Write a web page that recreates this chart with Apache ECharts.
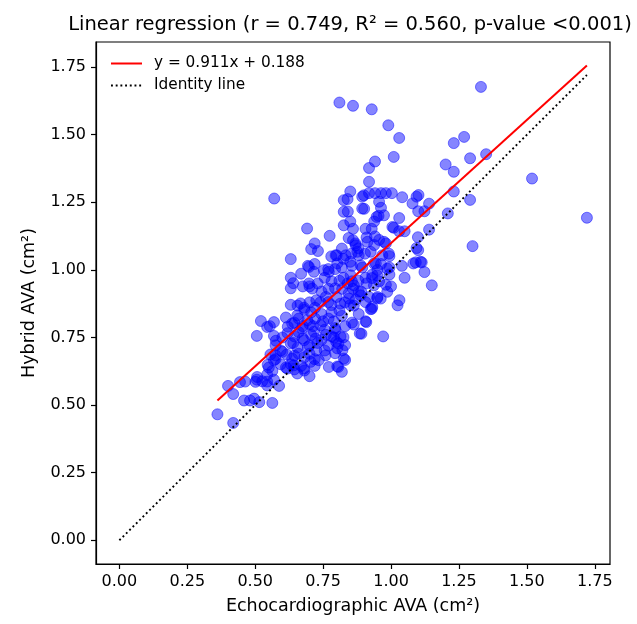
<!DOCTYPE html>
<html>
<head>
<meta charset="utf-8">
<script src="https://cdn.jsdelivr.net/npm/echarts@6/dist/echarts.min.js"></script>
<style>
html,body{margin:0;padding:0;background:#fff;}
#c{width:637px;height:624px;}
</style>
</head>
<body>
<div id="c"></div>
<script>
// Echocardiographic AVA (x) and Hybrid AVA (y)
const echoAVA = [
  1.331,0.810,0.860,0.929,0.990,1.030,1.231,1.269,1.350,1.291,
  1.010,0.941,0.919,1.201,1.231,1.519,0.919,0.850,0.570,1.721,
  1.300,1.231,1.291,1.209,1.140,1.094,1.101,1.041,1.079,1.100,
  1.123,1.030,1.140,1.099,1.100,1.113,1.091,1.123,1.150,1.031,
  0.971,1.050,1.040,0.994,0.691,0.774,0.631,0.506,0.521,0.361,
  0.419,0.400,0.419,0.444,0.463,0.459,0.481,0.496,0.515,0.563,
  0.506,0.544,0.588,0.550,0.563,
  0.840,0.894,0.919,0.941,0.963,0.981,1.003,0.956,0.963,0.901,
  0.841,0.850,0.954,0.938,0.860,0.906,0.929,1.010,1.030,1.050,
  0.941,0.844,0.869,0.938,0.956,0.981,0.719,0.706,0.731,0.800,
  0.825,0.854,0.881,0.904,0.819,0.694,0.719,0.769,0.794,0.819,
  0.856,0.894,0.944,0.963,0.994,0.669,0.631,0.640,0.631,0.675,
  0.700,0.756,0.781,0.825,0.856,0.906,0.931,0.994,1.000,0.956,
  0.981,0.744,0.794,0.844,0.881,0.919,0.950,0.725,0.769,0.813,
  0.863,0.906,0.631,0.656,0.681,0.706,0.744,0.781,0.819,0.856,
  0.881,0.909,0.929,0.613,0.644,0.675,0.713,0.756,0.794,0.831,
  0.863,0.891,0.569,0.554,0.569,0.576,0.619,0.644,0.675,0.706,
  0.744,0.781,0.825,0.806,0.831,0.794,0.631,0.656,0.694,0.725,
  0.756,0.594,0.616,0.644,0.681,0.719,0.556,0.575,0.594,0.631,
  0.669,0.700,0.806,0.819,0.831,0.546,0.544,0.569,0.613,0.644,
  0.681,0.719,
  0.698,0.716,0.753,0.771,0.796,0.802,0.698,0.710,0.667,0.826,
  0.826,0.826,0.900,1.094,1.082,1.109,0.894,0.947,0.974,1.005,
  0.870,0.913,0.974,0.833,0.876,0.925,0.968,0.992,0.888,0.937,
  0.986,0.851,0.949,0.863,0.937,0.845,0.888,0.931,0.962,0.986,
  0.544,0.575,0.636,0.655,0.673,0.692,0.716,0.722,0.741,0.575,
  0.569,0.600,0.618,0.642,0.636,0.679,0.655,0.704,0.734,0.759,
  0.771,0.821,0.798,0.796,0.501,0.526,0.544,0.507,0.925,0.906,
  0.885,1.024,0.826,0.814,0.802,0.802,0.949,
  0.66,0.68,0.70,0.72,0.74,0.76,0.78,0.80,0.82,0.84,
  0.86,0.88,0.70,0.72,0.75,0.77,0.79,0.81,0.83,0.85,
  0.87,0.89,0.91,0.93,0.95,0.66,0.68,0.70,0.73,0.76,
  0.79,0.62,0.60,0.64,0.66,0.70,0.77,0.73,0.77,0.81,
  0.85,0.88,0.91,0.86,0.78
];
const hybridAVA = [
  1.677,1.619,1.607,1.594,1.535,1.488,1.469,1.492,1.428,1.413,
  1.418,1.401,1.377,1.390,1.363,1.338,1.326,1.290,1.264,1.193,
  1.088,1.290,1.259,1.209,1.245,1.271,1.277,1.269,1.246,1.217,
  1.217,1.192,1.149,1.121,1.073,1.028,1.028,0.992,0.943,0.888,
  0.754,0.971,1.015,1.051,1.153,1.126,1.040,0.756,0.811,0.466,
  0.434,0.571,0.541,0.585,0.587,0.517,0.517,0.524,0.511,0.508,
  0.594,0.587,0.571,0.639,0.626,
  1.262,1.271,1.284,1.284,1.284,1.284,1.284,1.252,1.230,1.226,
  1.216,1.179,1.200,1.179,1.152,1.152,1.152,1.156,1.143,1.143,
  1.124,1.118,1.098,1.092,1.111,1.098,1.098,1.077,1.070,1.054,
  1.041,1.060,1.054,1.060,1.079,1.015,1.022,1.003,1.003,1.009,
  1.015,1.009,1.024,1.022,1.009,0.986,0.971,0.951,0.932,0.939,
  0.939,0.971,0.958,0.971,0.958,0.971,0.983,0.983,0.939,0.958,
  0.945,0.920,0.932,0.913,0.920,0.900,0.900,0.888,0.881,0.875,
  0.868,0.881,0.871,0.868,0.853,0.843,0.837,0.843,0.830,0.805,
  0.837,0.807,0.856,0.824,0.805,0.792,0.792,0.779,0.785,0.792,
  0.798,0.764,0.807,0.792,0.756,0.738,0.766,0.754,0.747,0.760,
  0.741,0.754,0.751,0.728,0.722,0.692,0.728,0.713,0.715,0.702,
  0.702,0.702,0.687,0.683,0.677,0.670,0.687,0.670,0.651,0.651,
  0.645,0.607,0.641,0.623,0.667,0.649,0.613,0.594,0.639,0.632,
  0.628,0.645,
  1.011,0.993,0.999,0.993,1.054,1.024,0.950,0.931,0.876,1.258,
  1.215,1.165,1.276,1.081,1.024,1.030,1.227,1.196,1.202,1.159,
  1.091,1.104,1.104,1.054,1.067,1.067,1.054,1.060,1.017,1.024,
  1.005,0.980,0.980,0.943,0.943,0.894,0.906,0.863,0.894,0.919,
  0.789,0.721,0.802,0.832,0.783,0.814,0.771,0.746,0.795,0.684,
  0.666,0.697,0.635,0.647,0.672,0.635,0.617,0.660,0.666,0.684,
  0.641,0.703,0.734,0.777,0.586,0.588,0.573,0.604,0.855,0.810,
  0.765,0.869,0.672,0.754,0.710,0.643,0.895,
  0.82,0.86,0.88,0.86,0.88,0.90,0.87,0.90,0.93,0.95,
  0.93,0.96,0.80,0.82,0.81,0.82,0.81,0.85,0.88,0.87,
  0.89,0.92,0.95,0.97,1.00,0.77,0.74,0.72,0.73,0.76,
  0.75,0.79,0.75,0.73,0.69,0.69,0.72,0.95,0.93,0.96,
  1.03,1.08,1.12,1.11,1.05
];
// Regression line end points (y = 0.911x + 0.188 over the data range)
const regX = [0.361, 1.721];
const regY = [0.517, 1.756];
// Identity line end points
const idX = [0.0, 1.721];
const idY = [0.0, 1.721];
// Tick values
const xTicks = [0, 0.25, 0.5, 0.75, 1.0, 1.25, 1.5, 1.75];
const yTicks = [0, 0.25, 0.5, 0.75, 1.0, 1.25, 1.5, 1.75];

const titleText = 'Linear regression (r = 0.749, R\u00B2 = 0.560, p-value <0.001)';
const regName = 'y = 0.911x + 0.188';
const idName = 'Identity line';

const FONT = 'DejaVu Sans';
const pts = echoAVA.map((x, i) => [x, hybridAVA[i]]);
const regData = regX.map((x, i) => [x, regY[i]]);
const idData = idX.map((x, i) => [x, idY[i]]);

function axisCommon(name, ticks, gap) {
  return {
    type: 'value',
    name: name,
    nameLocation: 'middle',
    nameGap: gap,
    nameTextStyle: { fontFamily: FONT, fontSize: 17.5, color: '#000' },
    axisLine: { show: true, onZero: false, lineStyle: { color: '#000', width: 1.2 } },
    axisTick: { show: true, customValues: ticks, length: 5, inside: false, lineStyle: { color: '#000', width: 1.2 } },
    axisLabel: { show: true, customValues: ticks, margin: 10, fontFamily: FONT, fontSize: 16, color: '#000',
                 formatter: v => Number(v).toFixed(2) },
    splitLine: { show: false }
  };
}

const chart = echarts.init(document.getElementById('c'), null, { renderer: 'canvas' });
const xAxis = axisCommon('Echocardiographic AVA (cm\u00B2)', xTicks, 33);
xAxis.min = -0.086; xAxis.max = 1.806;
const yAxis = axisCommon('Hybrid AVA (cm\u00B2)', yTicks, 58);
yAxis.min = -0.0877; yAxis.max = 1.843;

chart.setOption({
  animation: false,
  backgroundColor: '#fff',
  title: {
    text: titleText, left: 345, top: 10, textAlign: 'center',
    textStyle: { fontFamily: FONT, fontSize: 19.5, fontWeight: 'normal', color: '#000' }
  },
  grid: { left: 96, right: 27, top: 42, bottom: 60, show: true, borderColor: '#000', borderWidth: 1.2, backgroundColor: 'transparent' },
  legend: {
    data: [regName, idName],
    orient: 'vertical', left: 103, top: 50,
    itemWidth: 31, itemHeight: 12, itemGap: 7,
    padding: [6, 8, 6, 7],
    borderWidth: 0,
    backgroundColor: 'rgba(255,255,255,0.8)',
    itemStyle: { opacity: 0 },
    textStyle: { fontFamily: FONT, fontSize: 15.3, color: '#000', padding: [0, 0, 0, 7] }
  },
  xAxis: xAxis,
  yAxis: yAxis,
  series: [
    { type: 'scatter', name: 'points', data: pts, symbolSize: 11, z: 2,
      itemStyle: { color: 'rgba(0,0,255,0.6)', borderColor: 'rgba(0,0,255,0.6)', borderWidth: 1 } },
    { type: 'line', name: regName, data: regData, symbol: 'none', showSymbol: false, z: 3,
      itemStyle: { color: '#ff0000' },
      lineStyle: { color: '#ff0000', width: 2 } },
    { type: 'line', name: idName, data: idData, symbol: 'none', showSymbol: false, z: 3,
      itemStyle: { color: '#000' },
      lineStyle: { color: '#000', width: 1.9, type: [1.9, 2.8] } }
  ]
});
</script>
</body>
</html>
